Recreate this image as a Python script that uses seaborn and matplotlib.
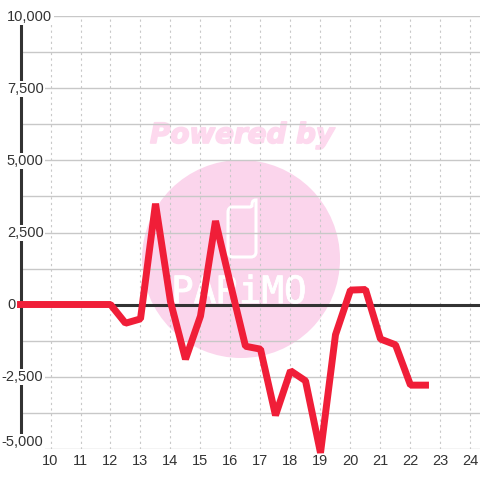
import matplotlib
matplotlib.use("Agg")
import matplotlib.pyplot as plt
import matplotlib.patheffects as pe
from matplotlib.patches import Circle, PathPatch
from matplotlib.path import Path
import pandas as pd
import seaborn as sns

# half-hourly values
hours = [9, 9.5, 10, 10.5, 11, 11.5, 12, 12.5, 13, 13.5, 14, 14.5, 15, 15.5, 16, 16.5,
         17, 17.5, 18, 18.5, 19, 19.5, 20, 20.5, 21, 21.5, 22, 22.5]
values = [0, 0, 0, 0, 0, 0, 0, -650, -500, 3500, 100, -1900, -400, 2900, 700, -1450,
          -1550, -3850, -2300, -2650, -5150, -1050, 500, 520, -1200, -1400, -2800, -2800]
x_ticks = list(range(10, 25))
y_major = [-5000, -2500, 0, 2500, 5000, 7500, 10000]
y_minor = [-3750, -1250, 1250, 3750, 6250, 8750]
y_labels = ["-5,000", "-2,500", "0", "2,500", "5,000", "7,500", "10,000"]

df = pd.DataFrame({"hour": hours, "value": values})

sns.set_theme(style="white")
plt.rcParams["font.family"] = ["Liberation Sans", "DejaVu Sans"]

W = 480
fig = plt.figure(figsize=(4.8, 4.8), dpi=100, facecolor="white")
# axes box in pixels: x 20.5-480.5, y 16.5-448.5
ax = fig.add_axes([20.5 / W, (W - 448.5) / W, 460 / W, 432 / W])
ax.patch.set_alpha(0)
ax.set_xlim(9, 9 + 460 / 30)
ax.set_ylim(-5000, 10000)


def px(x, y):
    return (x / W, 1 - y / W)


# watermark sits behind everything
pink = "#fbd5ec"
fig.add_artist(Circle(px(241, 259), 99 / W, transform=fig.transFigure, color=pink, lw=0, zorder=-5))
fig.text(*px(242, 135), "Powered by", color="#fdd9ee", fontsize=20, fontweight="bold", fontstyle="italic",
         family="DejaVu Sans", ha="center", va="center", zorder=-4,
         path_effects=[pe.withStroke(linewidth=1.2, foreground="#fdd9ee")])
logo_pts = [(232, 207), (250, 207), (251, 207), (252, 206), (252, 203), (252, 200), (256, 200), (256, 203),
            (256, 252), (256, 255), (254, 257), (251, 257), (233, 257), (230, 257), (228, 255), (228, 252),
            (228, 212), (228, 209), (230, 207), (232, 207)]
logo_codes = [Path.MOVETO, Path.LINETO, Path.CURVE3, Path.CURVE3, Path.CURVE4, Path.CURVE4, Path.CURVE4, Path.LINETO,
              Path.LINETO, Path.CURVE4, Path.CURVE4, Path.CURVE4, Path.LINETO, Path.CURVE4, Path.CURVE4, Path.CURVE4,
              Path.LINETO, Path.CURVE4, Path.CURVE4, Path.CURVE4]
fig.add_artist(PathPatch(Path([px(*p) for p in logo_pts], logo_codes), transform=fig.transFigure,
                         fc="none", ec="white", lw=2.2, zorder=-4))
fig.text(*px(239, 303), "PARiMO", color="white", fontsize=27, family="DejaVu Sans Mono",
         ha="center", va="baseline", zorder=-4,
         path_effects=[pe.withStroke(linewidth=0.6, foreground="white")])

for v in y_major + y_minor:
    ax.axhline(v, color="#c8c8c8", lw=1, zorder=1)
for h in x_ticks:
    ax.axvline(h, color="#c8c8c8", lw=0.8, dashes=(2, 3), zorder=1)
ax.axhline(0, color="#333333", lw=2.2, zorder=2)

sns.lineplot(data=df, x="hour", y="value", ax=ax, color="#f01e38", lw=5, zorder=5,
             clip_on=False, solid_joinstyle="bevel", solid_capstyle="projecting", errorbar=None)

sns.despine(ax=ax, top=True, right=True, bottom=True, left=False)
ax.spines["left"].set_color("#333333")
ax.spines["left"].set_linewidth(2.2)
ax.spines["left"].set_bounds(-4570, 9750)
ax.spines["left"].set_zorder(2)

ax.set_xlabel("")
ax.set_ylabel("")
ax.set_xticks(x_ticks)
ax.set_yticks([])
ax.tick_params(axis="x", length=0, pad=4, labelsize=10.5, labelcolor="#333333")

# y labels sit on the axis with a white box that cuts spine and grid
trans = ax.get_yaxis_transform()
for v, lab in zip(y_major, y_labels):
    ha, off, lift = "right", 23, -0.5
    box = dict(fc="white", ec="none", pad=1)
    if lab == "10,000":
        ha, off = "left", -13.5
    if lab == "0":
        ha, off, box = "left", -13.5, None
    if lab == "-5,000":
        lift = 6.5
    ax.annotate(lab, xy=(0, v), xycoords=trans, xytext=(off, lift), textcoords="offset pixels",
                ha=ha, va="center", fontsize=10.5, color="#333333", zorder=4, annotation_clip=False,
                bbox=box)

fig.savefig("out.png", dpi=100)
